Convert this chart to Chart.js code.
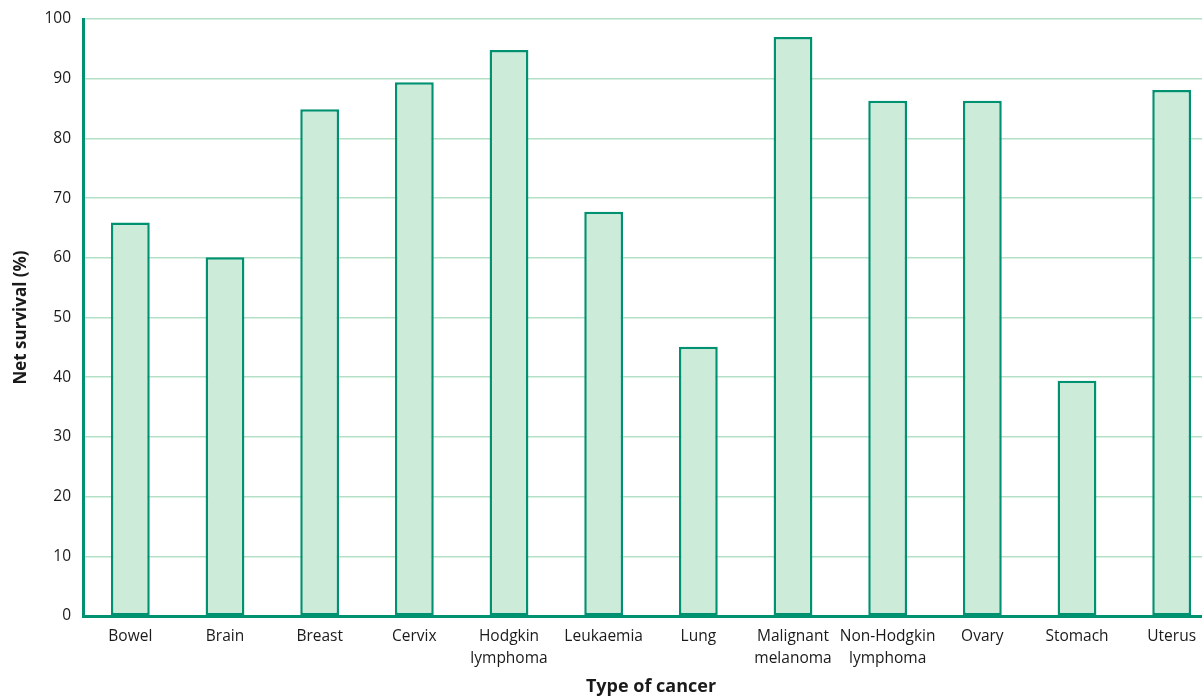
<!DOCTYPE html>
<html>
<head>
<meta charset="utf-8">
<script src="https://cdn.jsdelivr.net/npm/chart.js@4/dist/chart.umd.min.js"></script>
<style>
  html, body { margin: 0; padding: 0; background: #fff; overflow: hidden; }
  #wrap { width: 1222px; height: 698px; position: relative; }
</style>
</head>
<body>
<div id="wrap"><canvas id="c" width="1222" height="698"></canvas></div>
<script>
// Five-year net survival by cancer type
const categories = [
  'Bowel', 'Brain', 'Breast', 'Cervix', ['Hodgkin', 'lymphoma'], 'Leukaemia', 'Lung',
  ['Malignant', 'melanoma'], ['Non-Hodgkin', 'lymphoma'], 'Ovary', 'Stomach', 'Uterus'
];
const netSurvival = [65.9, 60.1, 84.9, 89.4, 94.8, 67.7, 45.1, 97.0, 86.3, 86.3, 39.4, 88.1];
const yTicks = [0, 10, 20, 30, 40, 50, 60, 70, 80, 90, 100];

const FONT = '"Open Sans", "Liberation Sans", sans-serif';
const GREEN = '#009270';

new Chart(document.getElementById('c'), {
  type: 'bar',
  data: {
    labels: categories,
    datasets: [{
      data: netSurvival,
      backgroundColor: '#cdebd9',
      borderColor: GREEN,
      borderWidth: 2.5,
      borderSkipped: false,
      categoryPercentage: 1,
      barPercentage: 0.41
    }]
  },
  options: {
    responsive: false,
    animation: false,
    layout: { padding: { top: 19, right: 3, bottom: 0, left: 0 } },
    plugins: { legend: { display: false }, tooltip: { enabled: false } },
    scales: {
      x: {
        grid: { display: false, drawTicks: false },
        border: { color: GREEN, width: 3 },
        ticks: {
          color: '#1a1a1a',
          font: { family: FONT, size: 15.5, lineHeight: 1.4 },
          maxRotation: 0,
          autoSkip: false,
          padding: 10
        },
        title: {
          display: true,
          text: 'Type of cancer',
          color: '#1a1a1a',
          font: { family: FONT, size: 18, weight: 'bold' },
          padding: { top: 0, bottom: 0 }
        },
        afterFit: s => { s.height = 82; }
      },
      y: {
        min: 0,
        max: 100,
        afterBuildTicks: s => { s.ticks = yTicks.map(v => ({ value: v })); },
        grid: { color: '#b3e0c6', lineWidth: 1.5, drawTicks: false },
        border: { color: GREEN, width: 3 },
        ticks: {
          color: '#1a1a1a',
          font: { family: FONT, size: 15.5 },
          padding: 12
        },
        title: {
          display: true,
          text: 'Net survival (%)',
          color: '#1a1a1a',
          font: { family: FONT, size: 17, weight: 'bold' },
          padding: { top: 11, bottom: 6 }
        },
        afterFit: s => { s.width = 83; s.paddingTop = 0; s.paddingBottom = 0; }
      }
    }
  }
});
</script>
</body>
</html>
